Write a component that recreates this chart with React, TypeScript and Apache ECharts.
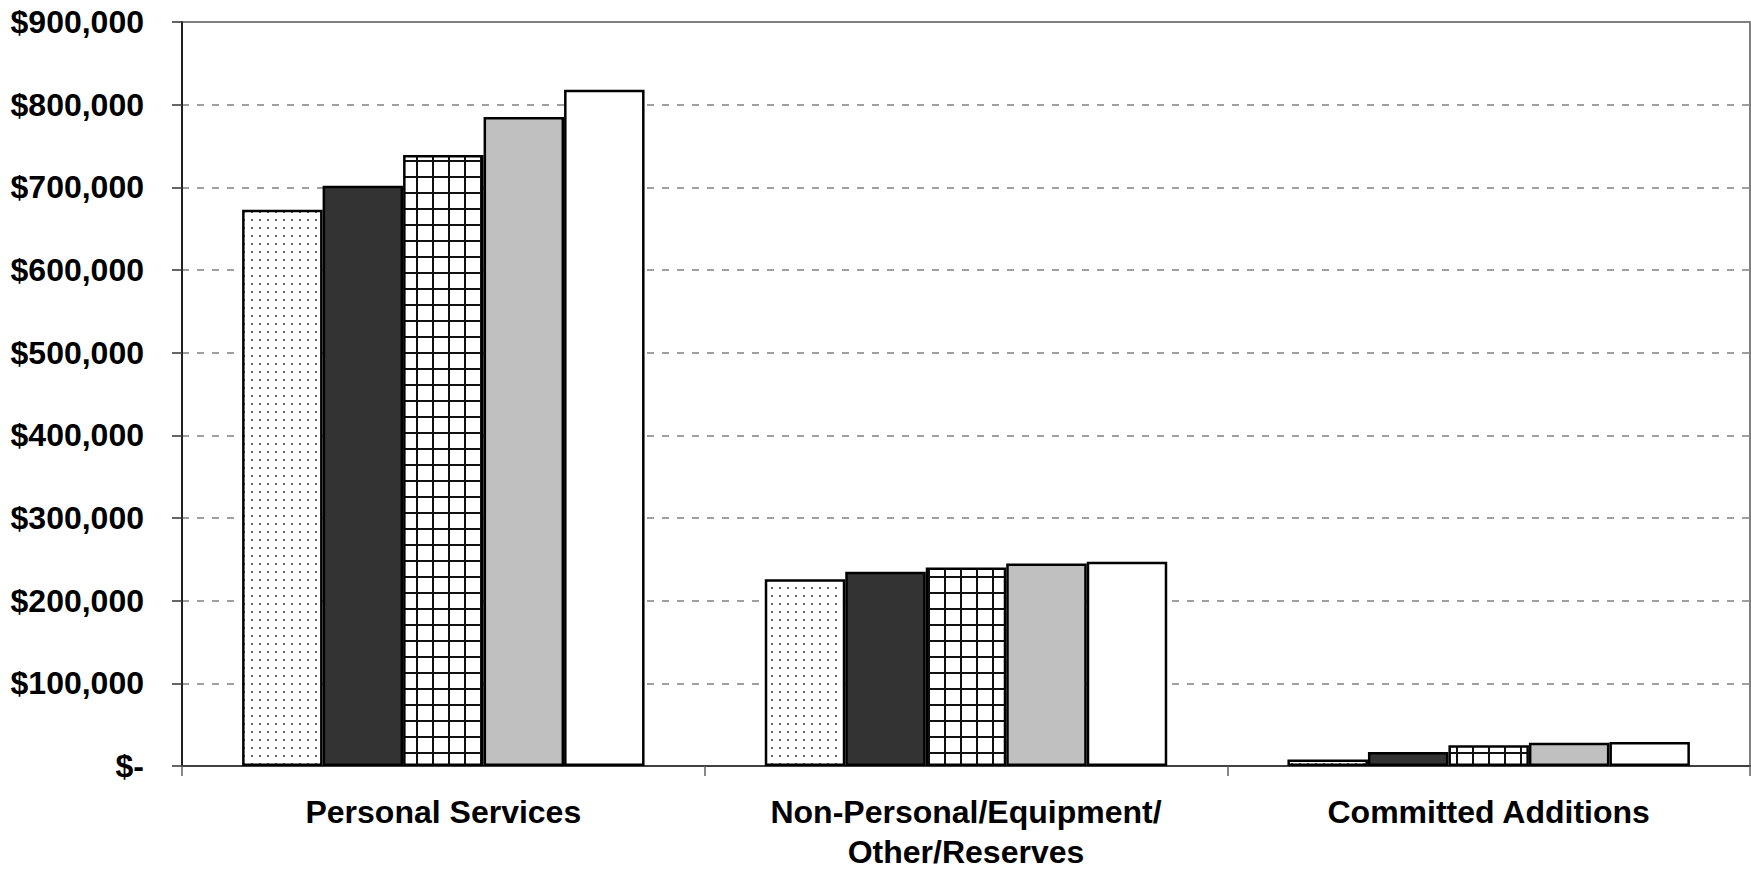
import React, { useEffect, useRef } from "react";
import * as echarts from "echarts";

const categories = ["Personal Services", "Non-Personal/Equipment/\nOther/Reserves", "Committed Additions"];
const seriesNames = ["Series 1", "Series 2", "Series 3", "Series 4", "Series 5"];
const series1 = [673000, 226000, 8000];
const series2 = [702000, 235000, 17000];
const series3 = [739000, 240000, 25000];
const series4 = [785000, 245000, 28000];
const series5 = [818000, 247000, 29000];
const yTicks = [0, 100000, 200000, 300000, 400000, 500000, 600000, 700000, 800000, 900000];

function dotPattern(): HTMLCanvasElement {
  const c = document.createElement("canvas");
  c.width = 8;
  c.height = 8;
  const ctx = c.getContext("2d")!;
  ctx.fillStyle = "#ffffff";
  ctx.fillRect(0, 0, 8, 8);
  ctx.fillStyle = "#666666";
  ctx.fillRect(3, 3, 2, 2);
  return c;
}

function gridPattern(): HTMLCanvasElement {
  const c = document.createElement("canvas");
  c.width = 16;
  c.height = 16;
  const ctx = c.getContext("2d")!;
  ctx.fillStyle = "#ffffff";
  ctx.fillRect(0, 0, 16, 16);
  ctx.fillStyle = "#111111";
  ctx.fillRect(0, 0, 2, 16);
  ctx.fillRect(0, 0, 16, 2);
  return c;
}

export default function App() {
  const ref = useRef<HTMLDivElement>(null);
  useEffect(() => {
    if (!ref.current) return;
    const chart = echarts.init(ref.current, undefined, { renderer: "svg" });
    const fills: any[] = [
      { image: dotPattern(), repeat: "repeat" },
      "#333333",
      { image: gridPattern(), repeat: "repeat" },
      "#C0C0C0",
      "#FFFFFF",
    ];
    const data = [series1, series2, series3, series4, series5];
    const font = "'Liberation Sans', Arial, sans-serif";
    chart.setOption({
      animation: false,
      backgroundColor: "#ffffff",
      grid: {
        left: 182,
        right: 1,
        top: 22,
        bottom: 103.5,
        show: true,
        borderColor: "#808080",
        borderWidth: 2,
        backgroundColor: "transparent",
      },
      xAxis: {
        type: "category",
        data: categories,
        axisLine: { show: true, lineStyle: { color: "#404040", width: 2 } },
        axisTick: { show: true, length: 10, lineStyle: { color: "#606060", width: 1.5 } },
        axisLabel: {
          margin: 26,
          color: "#000",
          fontFamily: font,
          fontWeight: "bold",
          fontSize: 32,
          lineHeight: 40,
          interval: 0,
        },
      },
      yAxis: {
        type: "value",
        min: 0,
        max: 900000,
        interval: 100000,
        axisLine: { show: true, lineStyle: { color: "#000", width: 1.5 } },
        axisTick: { show: true, length: 10, lineStyle: { color: "#333", width: 1.5 } },
        splitLine: { show: true, lineStyle: { color: "#808080", width: 1.5, type: [7, 8] } },
        axisLabel: {
          margin: 38,
          color: "#000",
          fontFamily: font,
          fontWeight: "bold",
          fontSize: 32,
          customValues: yTicks,
          formatter: (v: number) => (v === 0 ? "$-" : "$" + v.toLocaleString("en-US")),
        },
      },
      series: data.map((d, i) => ({
        name: seriesNames[i],
        type: "bar",
        data: d,
        barGap: "0%",
        barCategoryGap: "23%",
        itemStyle: { color: fills[i], borderColor: "#000", borderWidth: 2.5 },
      })),
    });
    return () => chart.dispose();
  }, []);
  return (
    <div
      ref={ref}
      style={{ position: "absolute", left: 0, top: 0, width: 1751, height: 872 }}
    />
  );
}
